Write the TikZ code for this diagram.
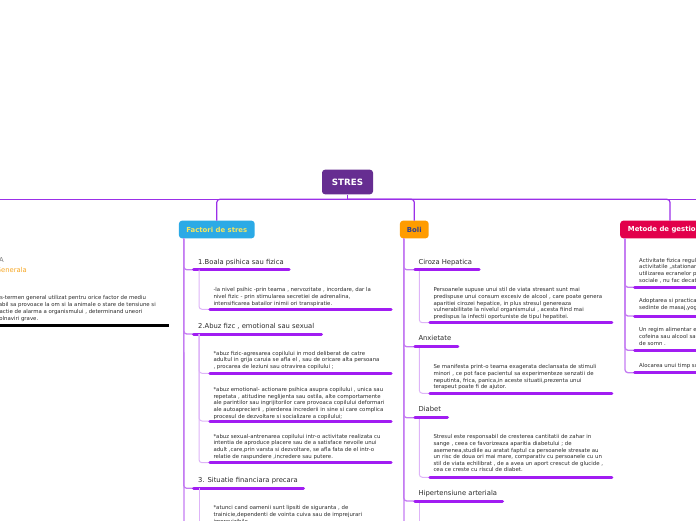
\documentclass[tikz,border=0pt]{standalone}
\usepackage{fontspec}
\setmainfont{DejaVu Sans}
\usetikzlibrary{positioning}
\definecolor{mmplum}{HTML}{662D91}
\definecolor{mmline}{HTML}{9B2FE8}
\definecolor{mmvert}{HTML}{C47CF2}
\definecolor{mmsub}{HTML}{DEB4F8}
\definecolor{mmunder}{HTML}{A11DF2}
\definecolor{mmblue}{HTML}{2BAAE6}
\definecolor{mmyellow}{HTML}{F7E65E}
\definecolor{mmorange}{HTML}{FF9C00}
\definecolor{mmnavy}{HTML}{2E3F8F}
\definecolor{mmred}{HTML}{E2004B}
\definecolor{mmgold}{HTML}{F6A623}
\definecolor{mmtext}{HTML}{2B2B2B}

\begin{document}
\begin{tikzpicture}[x=1pt,y=-1pt,
  topic/.style={rounded corners=3pt,inner sep=0pt,minimum height=17.6pt,
    font=\fontsize{6.9}{8}\selectfont\bfseries},
  ttl/.style={anchor=base west,inner sep=0pt,text=mmtext,font=\fontsize{6.8}{8}\selectfont},
  txt/.style={anchor=north west,inner sep=0pt,align=left,text=mmtext,
    font=\fontsize{5.4}{6.6}\selectfont},
  ml/.style={mmline,line width=1.2pt,rounded corners=3pt},
  vl/.style={mmvert,line width=1.3pt,rounded corners=3pt},
  sl/.style={mmsub,line width=1pt,rounded corners=3pt},
  ul/.style={mmunder,line width=3pt,line cap=round}]
  \useasboundingbox (0,0) rectangle (696,520);
  \clip (0,0) rectangle (696,520);
  % central topic and main line
  \node[topic,fill=mmplum,text=white,minimum width=51pt,minimum height=24.6pt,
    font=\fontsize{8.7}{10}\selectfont\bfseries] (stres) at (347.5,182) {STRES};
  \coordinate (hlW) at (-10,199.3);
  \coordinate (hlE) at (706,199.3);
  \draw[mmline,line width=1.2pt] (hlW) -- (hlE);
  \draw[ml] (stres.south) -- (stres.south |- hlW);
  % main topics
  \node[topic,fill=mmblue,text=mmyellow,minimum width=75.7pt] (fac) at (216.8,229.5) {Factori de stres};
  \node[topic,fill=mmorange,text=mmnavy,minimum width=28.7pt] (boli) at (414.3,229.5) {Boli};
  \node[topic,fill=mmred,text=white,anchor=west,inner xsep=7.7pt] (met) at (620,229.5)
    {Metode de gestionare a stresului};
  \draw[ml] (stres.south |- hlW) -| (fac.north);
  \draw[ml] (stres.south |- hlW) -| (boli.north);
  \draw[ml] (stres.south |- hlW) -| ([xshift=50pt]met.north west);

  % left branch, cut by the border
  \node[anchor=base east,inner sep=0pt,text=gray,font=\fontsize{6.8}{8}\selectfont] (def) at (4,262.5) {DEFINITIA};
  \node[anchor=base east,inner sep=0pt,text=mmgold,font=\fontsize{6.8}{8}\selectfont] (gen) at (27,272.8) {Notiune Generala};
  \node[txt,font=\fontsize{5.4}{6.8}\selectfont] (defd) at (-11,295.6)
    {Stres-termen general utilizat pentru orice factor de mediu\\
     capabil sa provoace la om si la animale o stare de tensiune si\\
     o reactie de alarma a organismului , determinand uneori\\
     imbolnaviri grave.};
  \coordinate (defa) at (-10,325.7); \coordinate (defb) at (168.7,325.7);
  \draw[black,line width=3pt] (defa) -- (defb);

  % Factori de stres
  \coordinate (facEnd) at (184,530);
  \draw[vl] ([xshift=5pt]fac.south west) -- (facEnd);
  \node[ttl] (f1) at (198,264.2) {1.Boala psihica sau fizica};
  \coordinate (f1a) at (193.5,269.7); \coordinate (f1b) at (289.2,269.7);
  \draw[vl] ([xshift=5pt]fac.south west) |- (f1a);
  \draw[ul] (f1a) -- (f1b);
  \node[txt] (f1d) at (213.3,287.5)
    {-la nivel psihic -prin teama , nervozitate , incordare, dar la\\
     nivel fizic - prin stimularea secretiei de adrenalina,\\
     intensificarea batailor inimii ori transpiratie.};
  \coordinate (f1da) at (209.8,309.3); \coordinate (f1db) at (391.2,309.3);
  \draw[sl] ([xshift=5.5pt]f1a) |- (f1da);
  \draw[ul] (f1da) -- (f1db);

  \node[ttl] (f2) at (198,328.2) {2.Abuz fizc , emotional sau sexual};
  \coordinate (f2a) at (193.5,334); \coordinate (f2b) at (321.5,334);
  \draw[vl] ([xshift=5pt]fac.south west) |- (f2a);
  \draw[ul] (f2a) -- (f2b);
  \node[txt] (f2d) at (213.3,351)
    {*abuz fizic-agresarea copilului in mod deliberat de catre\\
     adultul in grija caruia se afla el , sau de oricare alta persoana\\
     , procarea de leziuni sau otravirea copilului ;};
  \coordinate (f2da) at (209.8,373.3); \coordinate (f2db) at (391.2,373.3);
  \node[txt] (f2e) at (213.3,387.3)
    {*abuz emotional- actionare psihica asupra copilului , unica sau\\
     repetata , atitudine neglijenta sau ostila, alte comportamente\\
     ale parintilor sau ingrijitorilor care provoaca copilului deformari\\
     ale autoaprecierii , pierderea increderii in sine si care complica\\
     procesul de dezvoltare si socializare a copilului;};
  \coordinate (f2ea) at (209.8,421); \coordinate (f2eb) at (391.2,421);
  \node[txt] (f2f) at (213.3,434)
    {*abuz sexual-antrenarea copilului intr-o activitate realizata cu\\
     intentia de aproduce placere sau de a satisface nevoile unui\\
     adult ,care,prin varsta si dezvoltare, se afla fata de el intr-o\\
     relatie de raspundere ,incredere sau putere.};
  \coordinate (f2fa) at (209.8,462.7); \coordinate (f2fb) at (391.2,462.7);
  \draw[sl] ([xshift=5.5pt]f2a) |- (f2da);
  \draw[sl] ([xshift=5.5pt]f2a) |- (f2ea);
  \draw[sl] ([xshift=5.5pt]f2a) |- (f2fa);
  \draw[ul] (f2da) -- (f2db);
  \draw[ul] (f2ea) -- (f2eb);
  \draw[ul] (f2fa) -- (f2fb);

  \node[ttl] (f3) at (198,482.5) {3. Situatie financiara precara};
  \coordinate (f3a) at (193.5,488.3); \coordinate (f3b) at (303.5,488.3);
  \draw[vl] ([xshift=5pt]fac.south west) |- (f3a);
  \draw[ul] (f3a) -- (f3b);
  \node[txt] (f3d) at (213.3,505.6)
    {*atunci cand oamenii sunt lipsiti de siguranta , de\\
     trainicie,dependenti de vointa cuiva sau de imprejurari\\
     imprevizibile.};
  \coordinate (f3end) at (199,530);
  \draw[sl] ([xshift=5.5pt]f3a) -- (f3end);

  % Boli
  \coordinate (boliEnd) at (404,530);
  \draw[vl] ([xshift=4pt]boli.south west) -- (boliEnd);
  \node[ttl] (b1) at (418.3,264.2) {Ciroza Hepatica};
  \coordinate (b1a) at (414.8,269.7); \coordinate (b1b) at (479.2,269.7);
  \node[txt] (b1d) at (433.3,287.5)
    {Persoanele supuse unui stil de viata stresant sunt mai\\
     predispuse unui consum excesiv de alcool , care poate genera\\
     aparitiei cirozei hepatice, in plus stresul genereaza\\
     vulnerabilitate la nivelul organismului , acesta fiind mai\\
     predispus la infectii oportuniste de tipul hepatitei.};
  \coordinate (b1da) at (429.8,322.7); \coordinate (b1db) at (611.8,322.7);

  \node[ttl] (b2) at (418.3,340.2) {Anxietate};
  \coordinate (b2a) at (414.8,346.7); \coordinate (b2b) at (457.8,346.7);
  \node[txt] (b2d) at (433.3,364.6)
    {Se manifesta print-o teama exagerata declansata de stimuli\\
     minori , ce pot face pacientul sa experimenteze senzatii de\\
     neputinta, frica, panica,in aceste situatii,prezenta unui\\
     terapeut poate fi de ajutor.};
  \coordinate (b2da) at (429.8,393.3); \coordinate (b2db) at (611.8,393.3);

  \node[ttl] (b3) at (418.3,411.8) {Diabet};
  \coordinate (b3a) at (414.8,417.7); \coordinate (b3b) at (447.5,417.7);
  \node[txt] (b3d) at (433.3,434.6)
    {Stresul este responsabil de cresterea cantitatii de zahar in\\
     sange , ceea ce favorizeaza aparitia diabetului ; de\\
     asemenea,studiile au aratat faptul ca persoanele stresate au\\
     un risc de doua ori mai mare, comparativ cu persoanele cu un\\
     stil de viata echilibrat , de a avea un aport crescut de glucide ,\\
     cea ce creste cu riscul de diabet.};
  \coordinate (b3da) at (429.8,477.3); \coordinate (b3db) at (611.8,477.3);

  \node[ttl] (b4) at (418.3,495.2) {Hipertensiune arteriala};
  \coordinate (b4a) at (414.8,501); \coordinate (b4b) at (502.5,501);
  \coordinate (b4end) at (419.3,530);

  \draw[vl] ([xshift=4pt]boli.south west) |- (b1a);
  \draw[vl] ([xshift=4pt]boli.south west) |- (b2a);
  \draw[vl] ([xshift=4pt]boli.south west) |- (b3a);
  \draw[vl] ([xshift=4pt]boli.south west) |- (b4a);
  \draw[sl] ([xshift=4.5pt]b1a) |- (b1da);
  \draw[sl] ([xshift=4.5pt]b2a) |- (b2da);
  \draw[sl] ([xshift=4.5pt]b3a) |- (b3da);
  \draw[sl] ([xshift=4.5pt]b4a) -- (b4end);
  \draw[ul] (b1a) -- (b1b);  \draw[ul] (b1da) -- (b1db);
  \draw[ul] (b2a) -- (b2b);  \draw[ul] (b2da) -- (b2db);
  \draw[ul] (b3a) -- (b3b);  \draw[ul] (b3da) -- (b3db);
  \draw[ul] (b4a) -- (b4b);

  % Metode de gestionare
  \node[txt] (m1) at (639,258)
    {Activitate fizica regulata , deoarece\\
     activitatile ,,stationare'' precum\\
     utilizarea ecranelor pentru retelele\\
     sociale , nu fac decat sa amplifice stresul.};
  \coordinate (m1a) at (634.5,287.3); \coordinate (m1b) at (700,287.3);
  \node[txt] (m2) at (639,298.5)
    {Adoptarea si practicarea unor tehnici de relaxare,\\
     sedinte de masaj,yoga sau meditatie.};
  \coordinate (m2a) at (634.5,316); \coordinate (m2b) at (700,316);
  \node[txt] (m3) at (639,327.5)
    {Un regim alimentar echilibrat, evitarea consumului de\\
     cofeina sau alcool sau a altor stimulente, un program\\
     de somn .};
  \coordinate (m3a) at (634.5,350.3); \coordinate (m3b) at (700,350.3);
  \node[txt] (m4) at (639,363.5) {Alocarea unui timp suficient pentru relaxare.};
  \coordinate (m4a) at (634.5,372.7); \coordinate (m4b) at (700,372.7);
  \draw[vl] ([xshift=5pt]met.south west) |- (m1a);
  \draw[vl] ([xshift=5pt]met.south west) |- (m2a);
  \draw[vl] ([xshift=5pt]met.south west) |- (m3a);
  \draw[vl] ([xshift=5pt]met.south west) |- (m4a);
  \draw[ul] (m1a) -- (m1b);
  \draw[ul] (m2a) -- (m2b);
  \draw[ul] (m3a) -- (m3b);
  \draw[ul] (m4a) -- (m4b);
\end{tikzpicture}
\end{document}
